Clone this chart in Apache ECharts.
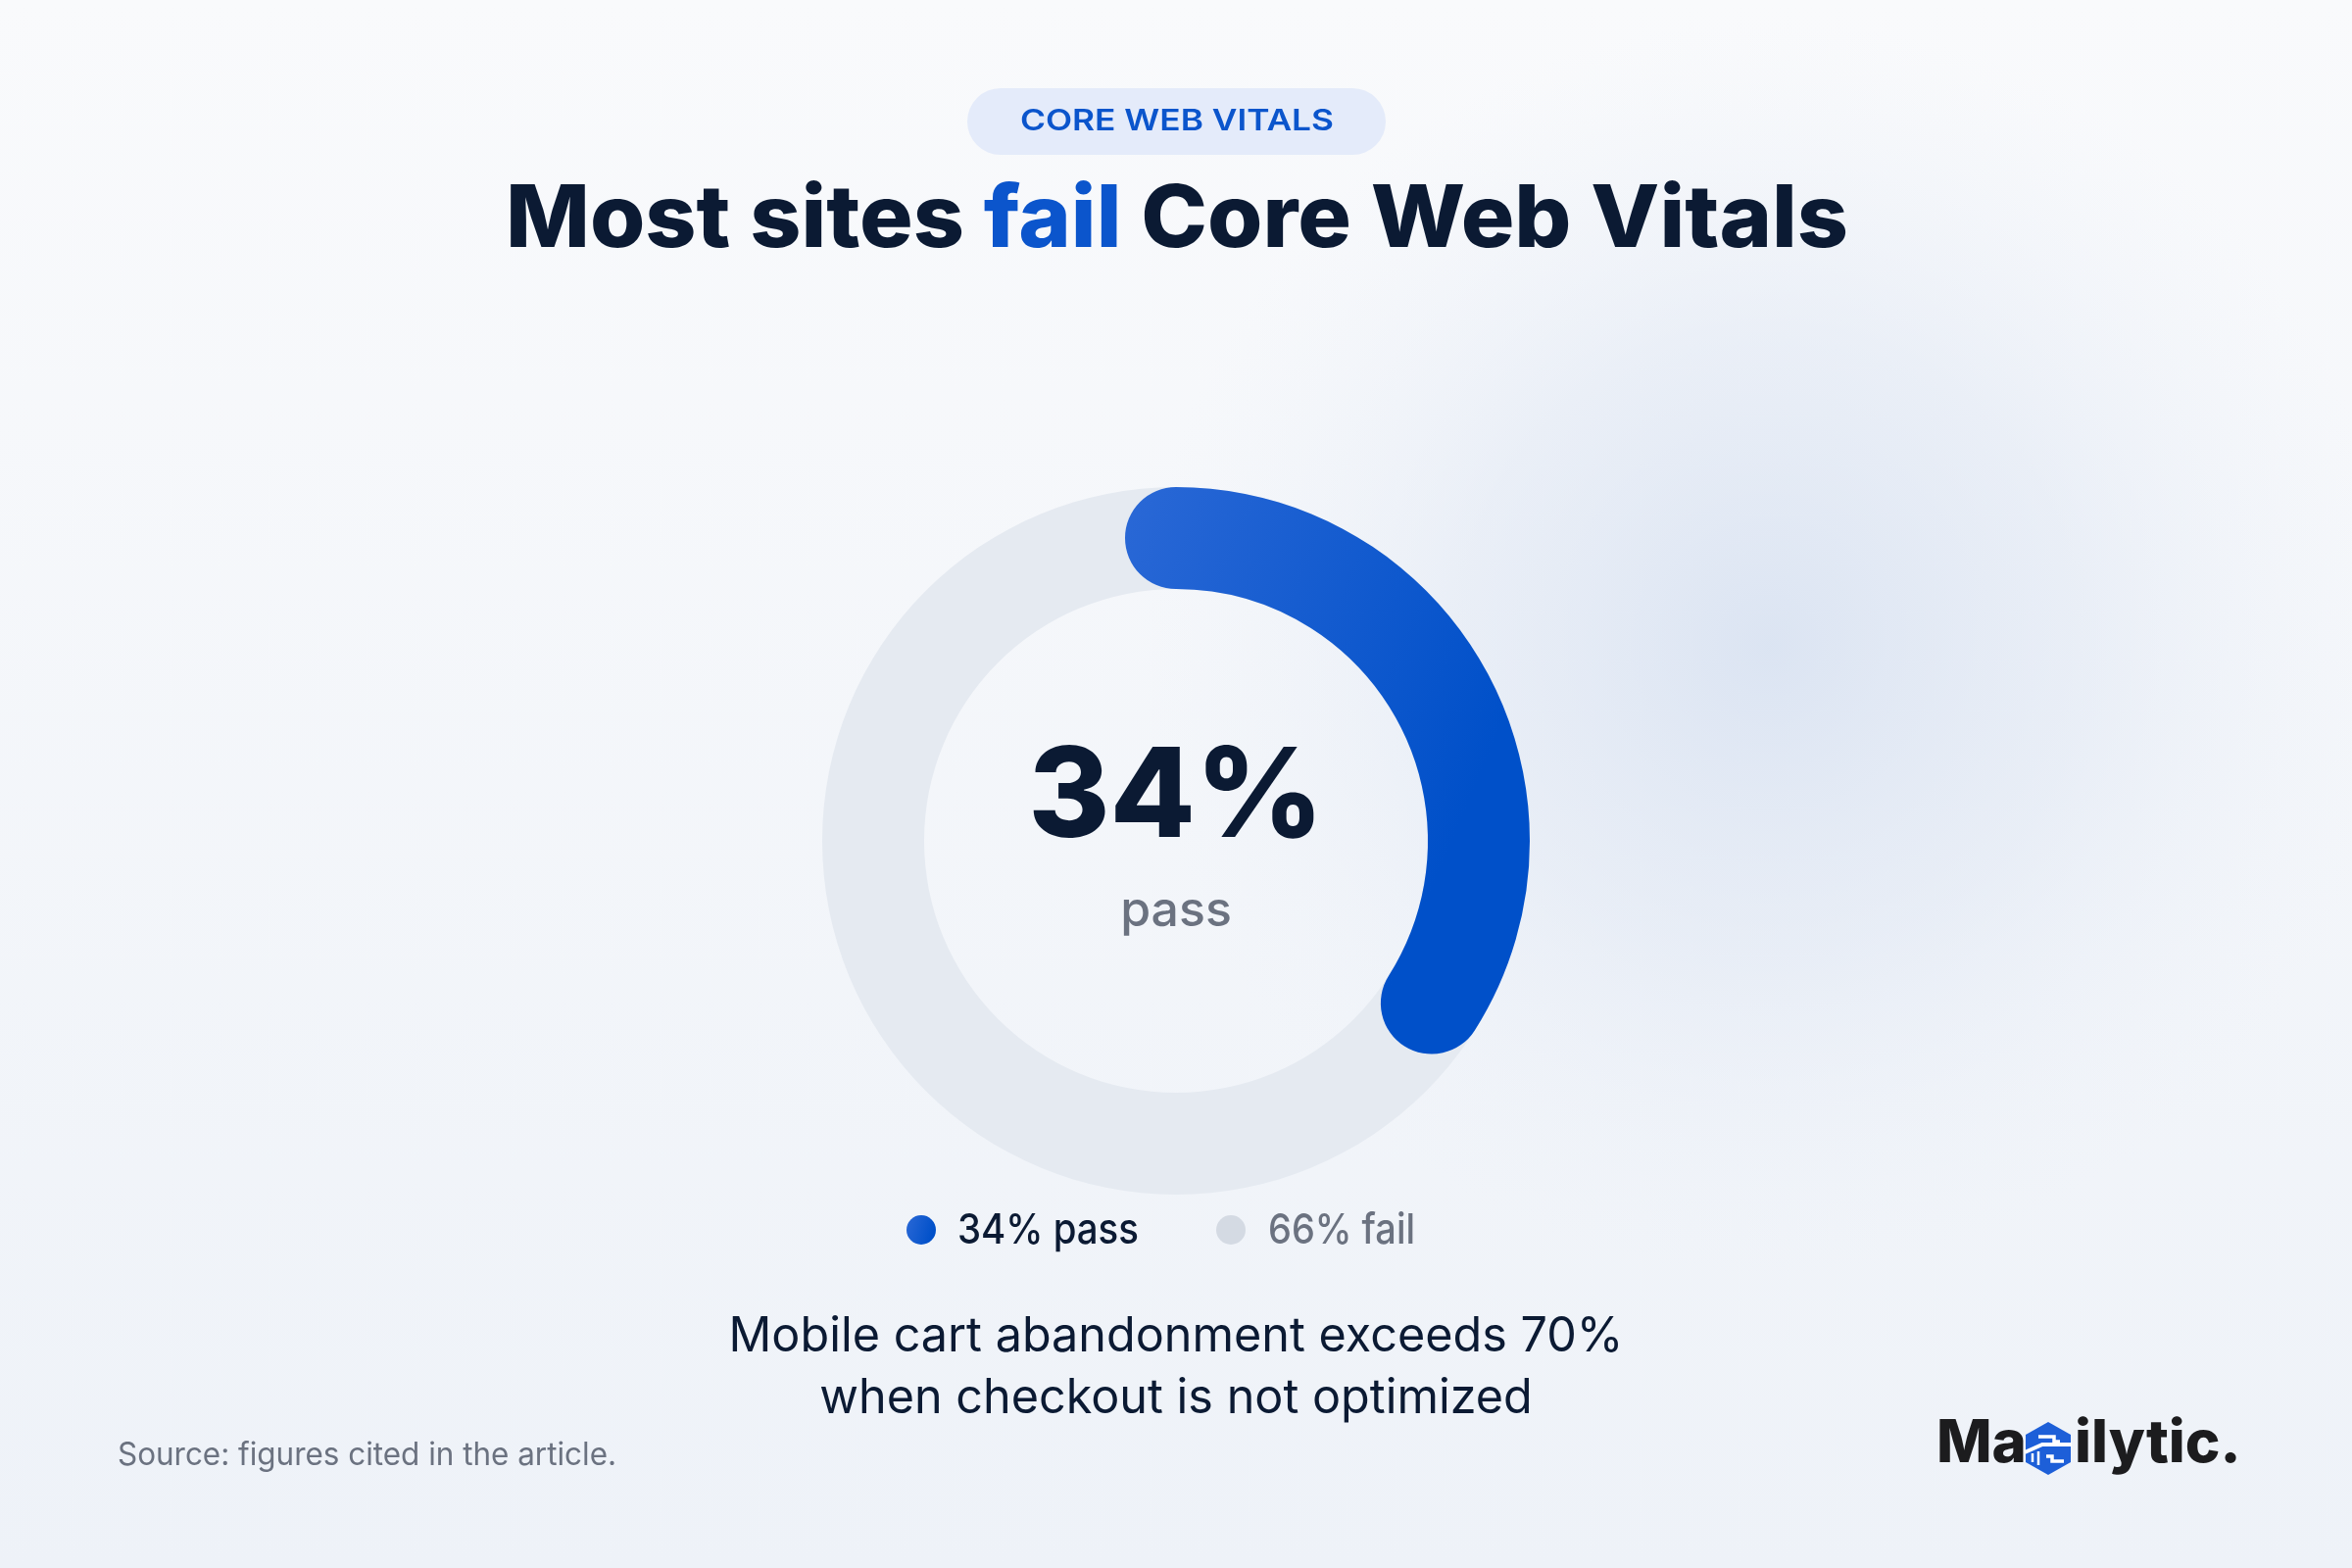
<!DOCTYPE html>
<html>
<head>
<meta charset="utf-8">
<script src="https://cdn.jsdelivr.net/npm/echarts@6/dist/echarts.min.js"></script>
<style>html,body{margin:0;padding:0;background:#f4f6fa;}#c{width:2400px;height:1600px;}</style>
</head>
<body>
<div id="c"></div>
<script>
// ---- data ----
const tagLabel = 'CORE WEB VITALS';
const titleParts = ['Most sites ', 'fail', ' Core Web Vitals'];
const categories = ['pass', 'fail'];
const percents = [34, 66];
const subtitleLines = ['Mobile cart abandonment exceeds 70%', 'when checkout is not optimized'];
const sourceText = 'Source: figures cited in the article.';
const brandParts = ['Ma', 'ilytic.'];

// ---- helpers ----
const FONT = 'Inter, "Noto Sans", sans-serif';
const mctx = document.createElement('canvas').getContext('2d');
function fit(text, weight, size, target) {
  mctx.font = weight + ' ' + size + 'px ' + FONT;
  return target / mctx.measureText(text).width;
}
const NAVY = '#0b1a33';
const BLUE = '#0b55cc';
const GRAY = '#6b7280';
const blueGrad = () => new echarts.graphic.LinearGradient(0, 0, 1, 0.3, [
  { offset: 0, color: '#2a68d6' }, { offset: 1, color: '#0050c9' }]);

const chart = echarts.init(document.getElementById('c'), null, { renderer: 'canvas' });

const legendItems = categories.map((c, i) => percents[i] + '% ' + c);

const titleScale = fit(titleParts.join(''), 800, 88, 1370);
const sub1Scale = fit(subtitleLines[0], 400, 49, 913);
const srcScale = fit(sourceText, 400, 32, 509);
const tagScale = fit(tagLabel, 600, 30, 320);
const leg0Scale = fit(legendItems[0], 500, 43, 185);
const leg1Scale = fit(legendItems[1], 500, 43, 150);

const option = {
  backgroundColor: new echarts.graphic.LinearGradient(0, 0, 0, 1, [
    { offset: 0, color: '#f9fafc' }, { offset: 1, color: '#eef2f8' }]),
  animation: false,
  series: [{
    type: 'gauge',
    center: [1200, 858],
    radius: 361,
    startAngle: 90,
    endAngle: -270,
    min: 0,
    max: 100,
    z: 5,
    progress: { show: true, width: 104, roundCap: true, itemStyle: { color: blueGrad() } },
    axisLine: { lineStyle: { width: 104, color: [[1, '#e5eaf1']] } },
    pointer: { show: false },
    anchor: { show: false },
    axisTick: { show: false },
    splitLine: { show: false },
    axisLabel: { show: false },
    title: {
      show: true, offsetCenter: [0, 72], color: GRAY, fontSize: 50,
      fontFamily: FONT, fontWeight: 500
    },
    detail: {
      show: true, offsetCenter: [0, -42], color: NAVY, fontSize: 127,
      fontFamily: FONT, fontWeight: 800, formatter: '{value}%'
    },
    data: [{ value: percents[0], name: categories[0] }]
  }],
  graphic: [
    // soft glow
    {
      type: 'circle', z: 0, shape: { cx: 1806, cy: 660, r: 640 },
      style: {
        fill: new echarts.graphic.RadialGradient(0.5, 0.5, 0.5, [
          { offset: 0, color: 'rgba(215,225,241,0.85)' },
          { offset: 0.5, color: 'rgba(222,230,243,0.5)' },
          { offset: 1, color: 'rgba(235,240,248,0)' }])
      }
    },
    // tag pill
    { type: 'rect', z: 10, shape: { x: 987, y: 90, width: 427, height: 68, r: 34 }, style: { fill: '#e4ebfa' } },
    {
      type: 'text', z: 11, x: 1201, y: 124, scaleX: tagScale,
      style: { text: tagLabel, fill: BLUE, font: '600 30px ' + FONT, align: 'center', verticalAlign: 'middle' }
    },
    // title
    {
      type: 'text', z: 11, x: 1201, y: 226, scaleX: titleScale,
      style: {
        text: '{a|' + titleParts[0] + '}{b|' + titleParts[1] + '}{a|' + titleParts[2] + '}',
        align: 'center', verticalAlign: 'middle',
        rich: {
          a: { fill: NAVY, font: '800 88px ' + FONT },
          b: { fill: BLUE, font: '800 88px ' + FONT }
        }
      }
    },
    // legend
    { type: 'circle', z: 11, shape: { cx: 940, cy: 1255, r: 15 }, style: { fill: blueGrad() } },
    {
      type: 'text', z: 11, x: 977, y: 1256, scaleX: leg0Scale,
      style: { text: legendItems[0], fill: NAVY, font: '500 43px ' + FONT, align: 'left', verticalAlign: 'middle' }
    },
    { type: 'circle', z: 11, shape: { cx: 1256, cy: 1255, r: 15 }, style: { fill: '#d4dae3' } },
    {
      type: 'text', z: 11, x: 1294, y: 1256, scaleX: leg1Scale,
      style: { text: legendItems[1], fill: GRAY, font: '500 43px ' + FONT, align: 'left', verticalAlign: 'middle' }
    },
    // subtitle
    {
      type: 'text', z: 11, x: 1200, y: 1364, scaleX: sub1Scale,
      style: { text: subtitleLines[0], fill: NAVY, font: '400 49px ' + FONT, align: 'center', verticalAlign: 'middle' }
    },
    {
      type: 'text', z: 11, x: 1200, y: 1427, scaleX: sub1Scale,
      style: { text: subtitleLines[1], fill: NAVY, font: '400 49px ' + FONT, align: 'center', verticalAlign: 'middle' }
    },
    // source
    {
      type: 'text', z: 11, x: 120, y: 1485, scaleX: srcScale,
      style: { text: sourceText, fill: GRAY, font: '400 32px ' + FONT, align: 'left', verticalAlign: 'middle' }
    },
    // brand
    {
      type: 'text', z: 11, x: 1976, y: 1474,
      style: { text: brandParts[0], fill: '#1c1c1e', font: '800 60px ' + FONT, align: 'left', verticalAlign: 'middle' }
    },
    {
      type: 'group', z: 11, x: 2090, y: 1478,
      children: [
        { type: 'polygon', z: 11, shape: { points: [[0, -27], [23, -14], [23, 14], [0, 27], [-23, 14], [-23, -14]] }, style: { fill: '#1d5fd8' } },
        { type: 'polyline', z: 12, shape: { points: [[-10, -12], [6, -12], [6, -7], [12, -7]] }, style: { stroke: '#ffffff', lineWidth: 3.5, fill: null } },
        { type: 'polyline', z: 12, shape: { points: [[-24, 4], [-6, -4], [24, -4]] }, style: { stroke: '#ffffff', lineWidth: 4, fill: null } },
        { type: 'polyline', z: 12, shape: { points: [[-16, 5], [-16, 14]] }, style: { stroke: '#ffffff', lineWidth: 2.5, fill: null } },
        { type: 'polyline', z: 12, shape: { points: [[-10, 3], [-10, 17]] }, style: { stroke: '#ffffff', lineWidth: 2.5, fill: null } },
        { type: 'polyline', z: 12, shape: { points: [[-2, 8], [4, 8], [4, 13], [16, 13]] }, style: { stroke: '#ffffff', lineWidth: 3.5, fill: null } }
      ]
    },
    {
      type: 'text', z: 11, x: 2117, y: 1474,
      style: { text: brandParts[1], fill: '#1c1c1e', font: '800 60px ' + FONT, align: 'left', verticalAlign: 'middle' }
    }
  ]
};
chart.setOption(option);
</script>
</body>
</html>
